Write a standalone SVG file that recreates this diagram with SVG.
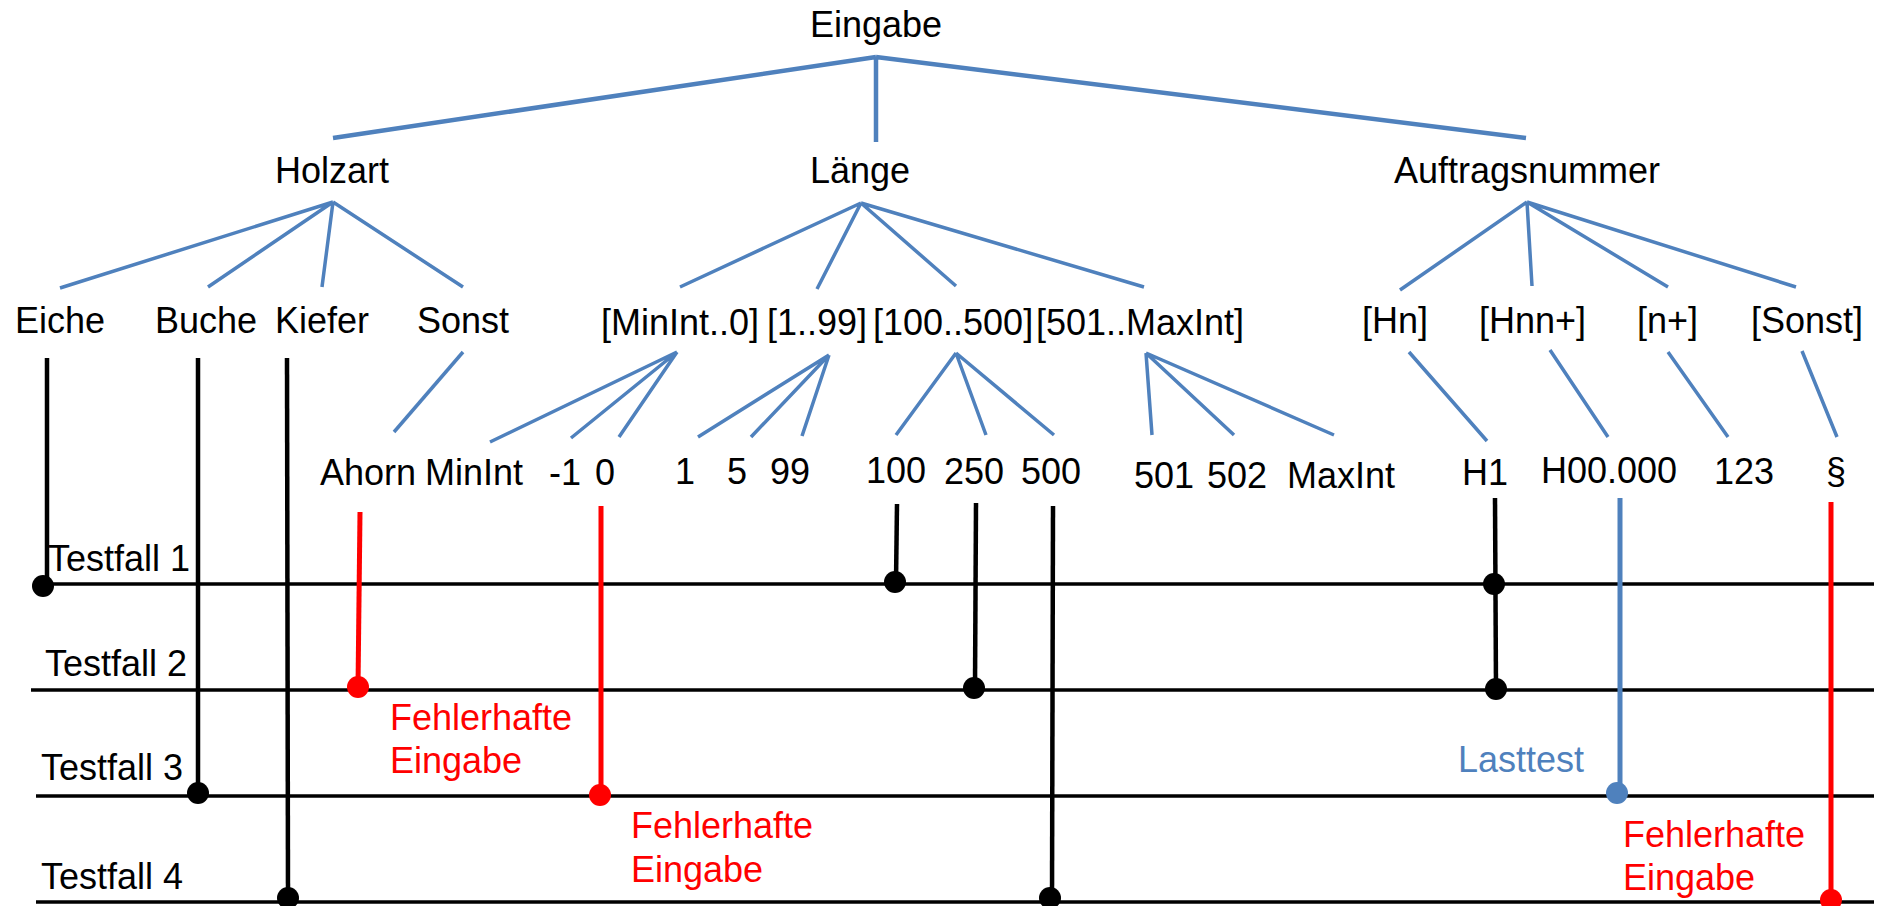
<svg xmlns="http://www.w3.org/2000/svg" width="1880" height="906" viewBox="0 0 1880 906">
  <style>
    text { font-family: "Liberation Sans", Arial, sans-serif; font-size: 36px; fill: #000; }
    .mid { text-anchor: middle; }
    .red { fill: #FF0000; }
    .blue { fill: #4F81BD; }
    .tree { stroke: #4F81BD; stroke-width: 3.5; fill: none; stroke-linecap: butt; }
    .tree.top { stroke-width: 4.5; }
    .case { stroke: #000; stroke-width: 3.5; }
    .pick { stroke: #000; stroke-width: 4.5; }
    .pick.err { stroke: #FF0000; stroke-width: 5; }
    .pick.load { stroke: #4F81BD; stroke-width: 5; }
    .dot { fill: #000; }
    .dot.err { fill: #FF0000; }
    .dot.load { fill: #4F81BD; }
  </style>
  <rect width="1880" height="906" fill="#fff"/>

  <!-- classification tree -->
  <g id="tree-edges">
    <path class="tree top" d="M876 57 L333 138 M876 57 L876 142 M876 57 L1526 138"/>
    <path class="tree" d="M333 202 L60 288 M333 202 L208 287 M333 202 L322 287 M333 202 L463 287"/>
    <path class="tree" d="M861 203 L680 287 M861 203 L817 289 M861 203 L956 286 M861 203 L1144 287"/>
    <path class="tree" d="M1527 202 L1400 290 M1527 202 L1532 286 M1527 202 L1668 287 M1527 202 L1796 287"/>
    <path class="tree" d="M463 352 L394 432"/>
    <path class="tree" d="M677 352 L490 442 M677 352 L571 438 M677 352 L619 437"/>
    <path class="tree" d="M829 355 L698 437 M829 355 L751 437 M829 355 L802 436"/>
    <path class="tree" d="M956 353 L896 435 M956 353 L986 435 M956 353 L1054 435"/>
    <path class="tree" d="M1146 353 L1152 435 M1146 353 L1234 435 M1146 353 L1334 435"/>
    <path class="tree" d="M1409 352 L1487 441 M1550 350 L1608 437 M1668 352 L1728 437 M1802 351 L1837 437"/>
  </g>

  <g id="n-eingabe"><text class="mid" x="876" y="37">Eingabe</text></g>
  <g id="n-holzart"><text class="mid" x="332" y="183">Holzart</text></g>
  <g id="n-laenge"><text class="mid" x="860" y="183">Länge</text></g>
  <g id="n-auftrag"><text class="mid" x="1527" y="183">Auftragsnummer</text></g>

  <g id="n-eiche"><text x="15" y="333">Eiche</text></g>
  <g id="n-buche"><text x="155" y="333">Buche</text></g>
  <g id="n-kiefer"><text x="275" y="333">Kiefer</text></g>
  <g id="n-sonst"><text x="417" y="333">Sonst</text></g>
  <g id="n-minint0"><text x="601" y="335">[MinInt..0]</text></g>
  <g id="n-1-99"><text x="767" y="335">[1..99]</text></g>
  <g id="n-100-500"><text x="873" y="335">[100..500]</text></g>
  <g id="n-501-max"><text x="1036" y="335">[501..MaxInt]</text></g>
  <g id="n-hn"><text x="1362" y="333">[Hn]</text></g>
  <g id="n-hnn"><text x="1479" y="333">[Hnn+]</text></g>
  <g id="n-nplus"><text x="1637" y="333">[n+]</text></g>
  <g id="n-sonst2"><text x="1751" y="333">[Sonst]</text></g>

  <g id="n-ahorn"><text x="320" y="485">Ahorn</text></g>
  <g id="n-minint"><text x="425" y="485">MinInt</text></g>
  <g id="n-m1"><text x="549" y="485">-1</text></g>
  <g id="n-0"><text x="595" y="485">0</text></g>
  <g id="n-1"><text x="675" y="484">1</text></g>
  <g id="n-5"><text x="727" y="484">5</text></g>
  <g id="n-99"><text x="770" y="484">99</text></g>
  <g id="n-100"><text x="866" y="483">100</text></g>
  <g id="n-250"><text x="944" y="484">250</text></g>
  <g id="n-500"><text x="1021" y="484">500</text></g>
  <g id="n-501"><text x="1134" y="488">501</text></g>
  <g id="n-502"><text x="1207" y="488">502</text></g>
  <g id="n-maxint"><text x="1287" y="488">MaxInt</text></g>
  <g id="n-h1"><text x="1462" y="485">H1</text></g>
  <g id="n-h00"><text x="1541" y="483">H00.000</text></g>
  <g id="n-123"><text x="1714" y="484">123</text></g>
  <g id="n-para"><text x="1826" y="484">§</text></g>

  <!-- test case rows -->
  <g id="testcases">
    <line class="case" x1="33" y1="584" x2="1874" y2="584"/>
    <line class="case" x1="31" y1="690" x2="1874" y2="690"/>
    <line class="case" x1="36" y1="796" x2="1874" y2="796"/>
    <line class="case" x1="36" y1="902" x2="1874" y2="902"/>
    <text x="48" y="571">Testfall 1</text>
    <text x="45" y="676">Testfall 2</text>
    <text x="41" y="780">Testfall 3</text>
    <text x="41" y="889">Testfall 4</text>
  </g>

  <!-- selections of classes per test case -->
  <g id="connectors">
    <line class="pick" x1="47" y1="358" x2="47" y2="580"/>
    <circle class="dot" cx="43" cy="586" r="11"/>
    <line class="pick" x1="198" y1="358" x2="198" y2="793"/>
    <circle class="dot" cx="198" cy="793" r="11"/>
    <line class="pick" x1="287" y1="358" x2="288" y2="898"/>
    <circle class="dot" cx="288" cy="898" r="11"/>
    <line class="pick err" x1="360" y1="512" x2="358" y2="687"/>
    <circle class="dot err" cx="358" cy="687" r="11"/>
    <line class="pick err" x1="601" y1="506" x2="601" y2="795"/>
    <circle class="dot err" cx="600" cy="795" r="11"/>
    <line class="pick" x1="897" y1="504" x2="896" y2="582"/>
    <circle class="dot" cx="895" cy="582" r="11"/>
    <line class="pick" x1="976" y1="503" x2="975" y2="688"/>
    <circle class="dot" cx="974" cy="688" r="11"/>
    <line class="pick" x1="1053" y1="506" x2="1052" y2="897"/>
    <circle class="dot" cx="1050" cy="898" r="11"/>
    <line class="pick" x1="1495" y1="498" x2="1496" y2="689"/>
    <circle class="dot" cx="1494" cy="584" r="11"/>
    <circle class="dot" cx="1496" cy="689" r="11"/>
    <line class="pick load" x1="1620" y1="498" x2="1620" y2="793"/>
    <circle class="dot load" cx="1617" cy="793" r="11"/>
    <line class="pick err" x1="1831" y1="502" x2="1831" y2="900"/>
    <circle class="dot err" cx="1831" cy="900" r="11"/>
  </g>

  <g id="notes">
    <text class="red" x="390" y="730">Fehlerhafte</text>
    <text class="red" x="390" y="773">Eingabe</text>
    <text class="red" x="631" y="838">Fehlerhafte</text>
    <text class="red" x="631" y="882">Eingabe</text>
    <text class="blue" x="1458" y="772">Lasttest</text>
    <text class="red" x="1623" y="847">Fehlerhafte</text>
    <text class="red" x="1623" y="890">Eingabe</text>
  </g>
</svg>
